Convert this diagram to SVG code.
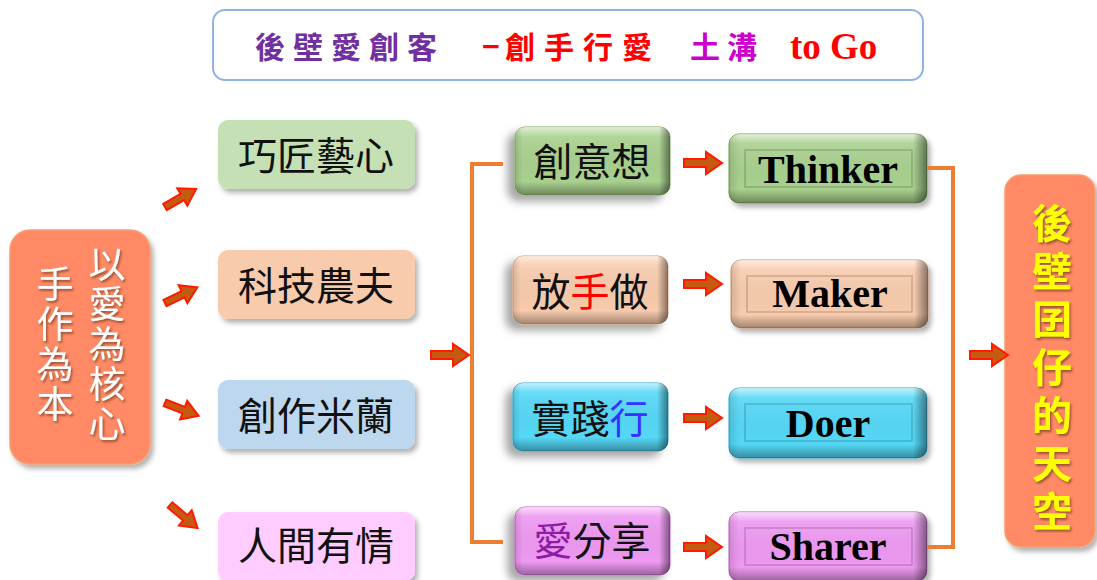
<svg xmlns="http://www.w3.org/2000/svg" width="1097" height="580" viewBox="0 0 1097 580">
<style>
.cjk{font-family:"Noto Sans CJK TC","Noto Sans CJK SC",sans-serif}
.lbl{font-size:39px;fill:#111;text-anchor:middle}
.en{font-family:"Liberation Serif","Times New Roman",serif;font-weight:bold;font-size:40px;text-anchor:middle;fill:#000}
.conn{fill:none;stroke:#ED7D31;stroke-width:4}
.arr{fill:#C55A11;stroke:#FF1A00;stroke-width:2;stroke-linejoin:miter}
.inner{fill:none;stroke:#000;stroke-opacity:0.18;stroke-width:1.5}
.vert{writing-mode:vertical-rl;text-orientation:upright}
</style>
<defs>
<filter id="sh" x="-20%" y="-20%" width="140%" height="150%"><feDropShadow dx="3" dy="4" stdDeviation="2.5" flood-color="#000" flood-opacity="0.3"/></filter>
<filter id="shL" x="-30%" y="-20%" width="150%" height="160%"><feDropShadow dx="-7" dy="6" stdDeviation="4" flood-color="#000" flood-opacity="0.35"/></filter>
<filter id="tsh" x="-20%" y="-20%" width="140%" height="140%"><feDropShadow dx="1.5" dy="2" stdDeviation="1.2" flood-color="#5a2a10" flood-opacity="0.6"/></filter>
<linearGradient id="gv" x1="0" y1="0" x2="0" y2="1">
<stop offset="0" stop-color="#fff" stop-opacity="0.65"/>
<stop offset="0.14" stop-color="#fff" stop-opacity="0.1"/>
<stop offset="0.8" stop-color="#000" stop-opacity="0"/>
<stop offset="1" stop-color="#000" stop-opacity="0.35"/>
</linearGradient>
<linearGradient id="gh" x1="0" y1="0" x2="1" y2="0">
<stop offset="0" stop-color="#000" stop-opacity="0.12"/>
<stop offset="0.05" stop-color="#000" stop-opacity="0"/>
<stop offset="0.93" stop-color="#000" stop-opacity="0"/>
<stop offset="1" stop-color="#000" stop-opacity="0.45"/>
</linearGradient>
<path id="ar" d="M0,-4 H22 V-11 L38,0 L22,11 V4 H0 Z"/>
<path id="ars" d="M0,-3.5 H20 V-10 L36,0 L20,10 V3.5 H0 Z"/>
</defs>

<g id="title">
<rect x="213" y="10" width="710" height="70" rx="12" fill="#fff" stroke="#8FB4E3" stroke-width="2"/>
<text class="cjk" y="58" font-size="30" font-weight="bold">
<tspan x="255" fill="#7030A0" letter-spacing="8">後壁愛創客</tspan><tspan x="482" fill="#FF0000">−</tspan><tspan x="505" fill="#FF0000" letter-spacing="9">創手行愛</tspan><tspan x="690" fill="#CC00CC" letter-spacing="7">土溝</tspan></text>
<text x="790" y="59" font-family="Liberation Serif,serif" font-weight="bold" font-size="37" fill="#FF0000">to Go</text>
</g>

<g id="left-main">
<rect x="10" y="230" width="140" height="234" rx="20" fill="#FF8A65" stroke="#F4A070" stroke-width="1.5" filter="url(#sh)"/>
<g class="cjk" font-size="37" fill="#fff" filter="url(#tsh)">
<text class="vert" x="107" y="245" letter-spacing="3">以愛為核心</text>
<text class="vert" x="55" y="265" letter-spacing="3">手作為本</text>
</g>
</g>

<g id="n-qiaojiang"><rect x="218" y="120" width="197" height="69" rx="10" fill="#C5E0B4" filter="url(#sh)"/><text class="cjk lbl" x="316" y="170">巧匠藝心</text></g>
<g id="n-keji"><rect x="218" y="250" width="197" height="69" rx="10" fill="#F8CBAD" filter="url(#sh)"/><text class="cjk lbl" x="316" y="300">科技農夫</text></g>
<g id="n-chuangzuo"><rect x="218" y="380" width="197" height="69" rx="10" fill="#BDD7EE" filter="url(#sh)"/><text class="cjk lbl" x="316" y="430">創作米蘭</text></g>
<g id="n-renjian"><rect x="218" y="512" width="197" height="69" rx="10" fill="#FFCCFF" filter="url(#sh)"/><text class="cjk lbl" x="316" y="560">人間有情</text></g>

<g id="n-chuangyi"><rect x="515" y="127" width="155" height="68" rx="10" fill="#A9D18E" stroke="#7FAE5E" filter="url(#shL)"/><rect x="515" y="127" width="155" height="68" rx="10" fill="url(#gv)"/><rect x="515" y="127" width="155" height="68" rx="10" fill="url(#gh)"/><text class="cjk lbl" x="592" y="176">創意想</text></g>
<g id="n-fangshou"><rect x="513" y="256" width="155" height="68" rx="10" fill="#F8CBAD" stroke="#D9A07A" filter="url(#shL)"/><rect x="513" y="256" width="155" height="68" rx="10" fill="url(#gv)"/><rect x="513" y="256" width="155" height="68" rx="10" fill="url(#gh)"/><text class="cjk lbl" x="590" y="306">放<tspan fill="#FF0000">手</tspan>做</text></g>
<g id="n-shijian"><rect x="513" y="383" width="155" height="68" rx="10" fill="#55D8F7" stroke="#2AA8C8" filter="url(#shL)"/><rect x="513" y="383" width="155" height="68" rx="10" fill="url(#gv)"/><rect x="513" y="383" width="155" height="68" rx="10" fill="url(#gh)"/><text class="cjk lbl" x="590" y="433">實踐<tspan fill="#3333FF">行</tspan></text></g>
<g id="n-aifenxiang"><rect x="515" y="507" width="155" height="68" rx="10" fill="#EE99F2" stroke="#C060C8" filter="url(#shL)"/><rect x="515" y="507" width="155" height="68" rx="10" fill="url(#gv)"/><rect x="515" y="507" width="155" height="68" rx="10" fill="url(#gh)"/><text class="cjk lbl" x="592" y="555"><tspan fill="#8E1AA8">愛</tspan>分享</text></g>

<g id="n-thinker"><rect x="729" y="134" width="198" height="69" rx="10" fill="#A9D18E" stroke="#6E9E50" filter="url(#sh)"/><rect x="729" y="134" width="198" height="69" rx="10" fill="url(#gv)"/><rect x="729" y="134" width="198" height="69" rx="10" fill="url(#gh)"/><rect class="inner" x="745" y="150" width="167" height="37"/><text class="en" x="828" y="183" fill="#1F3B12">Thinker</text></g>
<g id="n-maker"><rect x="731" y="260" width="197" height="68" rx="10" fill="#F8CBAD" stroke="#C8906A" filter="url(#sh)"/><rect x="731" y="260" width="197" height="68" rx="10" fill="url(#gv)"/><rect x="731" y="260" width="197" height="68" rx="10" fill="url(#gh)"/><rect class="inner" x="747" y="276" width="165" height="36"/><text class="en" x="830" y="307">Maker</text></g>
<g id="n-doer"><rect x="729" y="388" width="198" height="70" rx="10" fill="#55D8F7" stroke="#2AA8C8" filter="url(#sh)"/><rect x="729" y="388" width="198" height="70" rx="10" fill="url(#gv)"/><rect x="729" y="388" width="198" height="70" rx="10" fill="url(#gh)"/><rect class="inner" x="745" y="404" width="167" height="37"/><text class="en" x="828" y="437">Doer</text></g>
<g id="n-sharer"><rect x="729" y="512" width="198" height="69" rx="10" fill="#EE99F2" stroke="#B060B8" filter="url(#sh)"/><rect x="729" y="512" width="198" height="69" rx="10" fill="url(#gv)"/><rect x="729" y="512" width="198" height="69" rx="10" fill="url(#gh)"/><rect class="inner" x="745" y="528" width="167" height="37"/><text class="en" x="828" y="560">Sharer</text></g>

<g id="n-sky">
<rect x="1005" y="175" width="90" height="372" rx="16" fill="#FF8A65" stroke="#F4A070" stroke-width="1.5" filter="url(#sh)"/>
<text class="cjk vert" x="1052" y="203" font-size="40" font-weight="bold" fill="#FFFF00" letter-spacing="8" filter="url(#tsh)">後壁囝仔的天空</text>
</g>

<g id="connectors">
<path class="conn" d="M503,164 H472 V542 H503"/>
<path class="conn" d="M927,168 H953 V547 H927"/>
<use href="#ar" class="arr" transform="translate(431,355)"/>
<use href="#ar" class="arr" transform="translate(684,163)"/>
<use href="#ar" class="arr" transform="translate(684,284)"/>
<use href="#ar" class="arr" transform="translate(684,418)"/>
<use href="#ar" class="arr" transform="translate(684,547)"/>
<use href="#ar" class="arr" transform="translate(970,355)"/>
<use href="#ars" class="arr" transform="translate(165,207) rotate(-30)"/>
<use href="#ars" class="arr" transform="translate(165,303) rotate(-26)"/>
<use href="#ars" class="arr" transform="translate(165,403) rotate(21)"/>
<use href="#ars" class="arr" transform="translate(170,505) rotate(40)"/>
</g>
</svg>
